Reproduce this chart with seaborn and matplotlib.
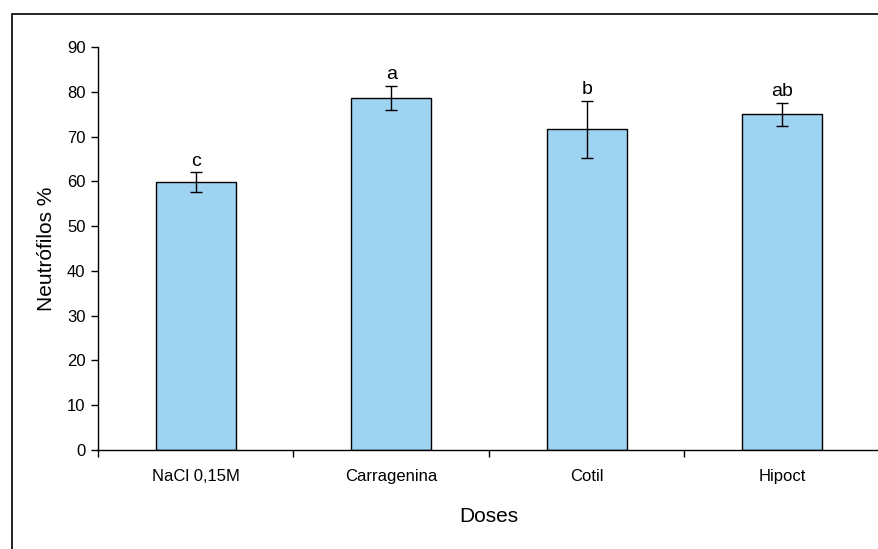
import matplotlib
matplotlib.use("Agg")
import matplotlib.pyplot as plt
import seaborn as sns
import pandas as pd
from matplotlib.patches import Rectangle

categories = ["NaCl 0,15M", "Carragenina", "Cotil", "Hipoct"]
values = [59.8, 78.7, 71.6, 75.0]
errors = [2.2, 2.7, 6.3, 2.6]
letters = ["c", "a", "b", "ab"]
yticks = [0, 10, 20, 30, 40, 50, 60, 70, 80, 90]

sns.set_style("white")
plt.rcParams["font.family"] = ["Liberation Sans Narrow", "Liberation Sans", "DejaVu Sans"]
plt.rcParams["text.color"] = "black"
plt.rcParams["axes.labelcolor"] = "black"
plt.rcParams["xtick.color"] = "black"
plt.rcParams["ytick.color"] = "black"

df = pd.DataFrame({"Doses": categories, "val": values})

fig = plt.figure(figsize=(8.79, 5.49), dpi=100)
W, H = 879, 549
ax = fig.add_axes([98 / W, 1 - 450 / H, (880 - 98) / W, (450 - 47) / H])

sns.barplot(data=df, x="Doses", y="val", ax=ax, color="#9fd3f2", saturation=1,
            width=0.41, edgecolor="black", linewidth=1.0, errorbar=None)
ax.errorbar(range(len(categories)), values, yerr=errors, fmt="none",
            ecolor="black", elinewidth=1.0, capsize=4, capthick=1.0)
for i, (v, e, l) in enumerate(zip(values, errors, letters)):
    ax.text(i, v + e + 0.6, l, ha="center", va="bottom", fontsize=14,
            color="black", family=["Liberation Sans", "DejaVu Sans"])

ax.set_xlim(-0.5, 3.5)
ax.set_ylim(0, 90)
ax.set_yticks(yticks)
ax.set_yticklabels([str(t) for t in yticks], fontsize=12)
ax.set_xticks([0, 1, 2, 3])
ax.set_xticklabels(categories, fontsize=12)
ax.set_xticks([-0.5, 0.5, 1.5, 2.5, 3.5], minor=True)
ax.tick_params(axis="x", which="major", bottom=True, length=0, pad=14)
ax.tick_params(axis="x", which="minor", bottom=True, direction="out", length=5, width=1, color="black")
ax.tick_params(axis="y", left=True, direction="out", length=5, width=1, color="black", pad=4)
for s in ["top", "right"]:
    ax.spines[s].set_visible(False)
for s in ["left", "bottom"]:
    ax.spines[s].set_color("black")
    ax.spines[s].set_linewidth(1.0)

ax.set_xlabel("Doses", fontsize=15, family=["Liberation Sans", "DejaVu Sans"], labelpad=16)
ax.set_ylabel("Neutrófilos %", fontsize=15, family=["Liberation Sans", "DejaVu Sans"], labelpad=8)

fig.patches.append(Rectangle((12 / W, -0.05), 1.2, 1 - 14 / H + 0.05,
                             transform=fig.transFigure, fill=False,
                             edgecolor="black", linewidth=1.2))

fig.savefig("out.png", dpi=100)
